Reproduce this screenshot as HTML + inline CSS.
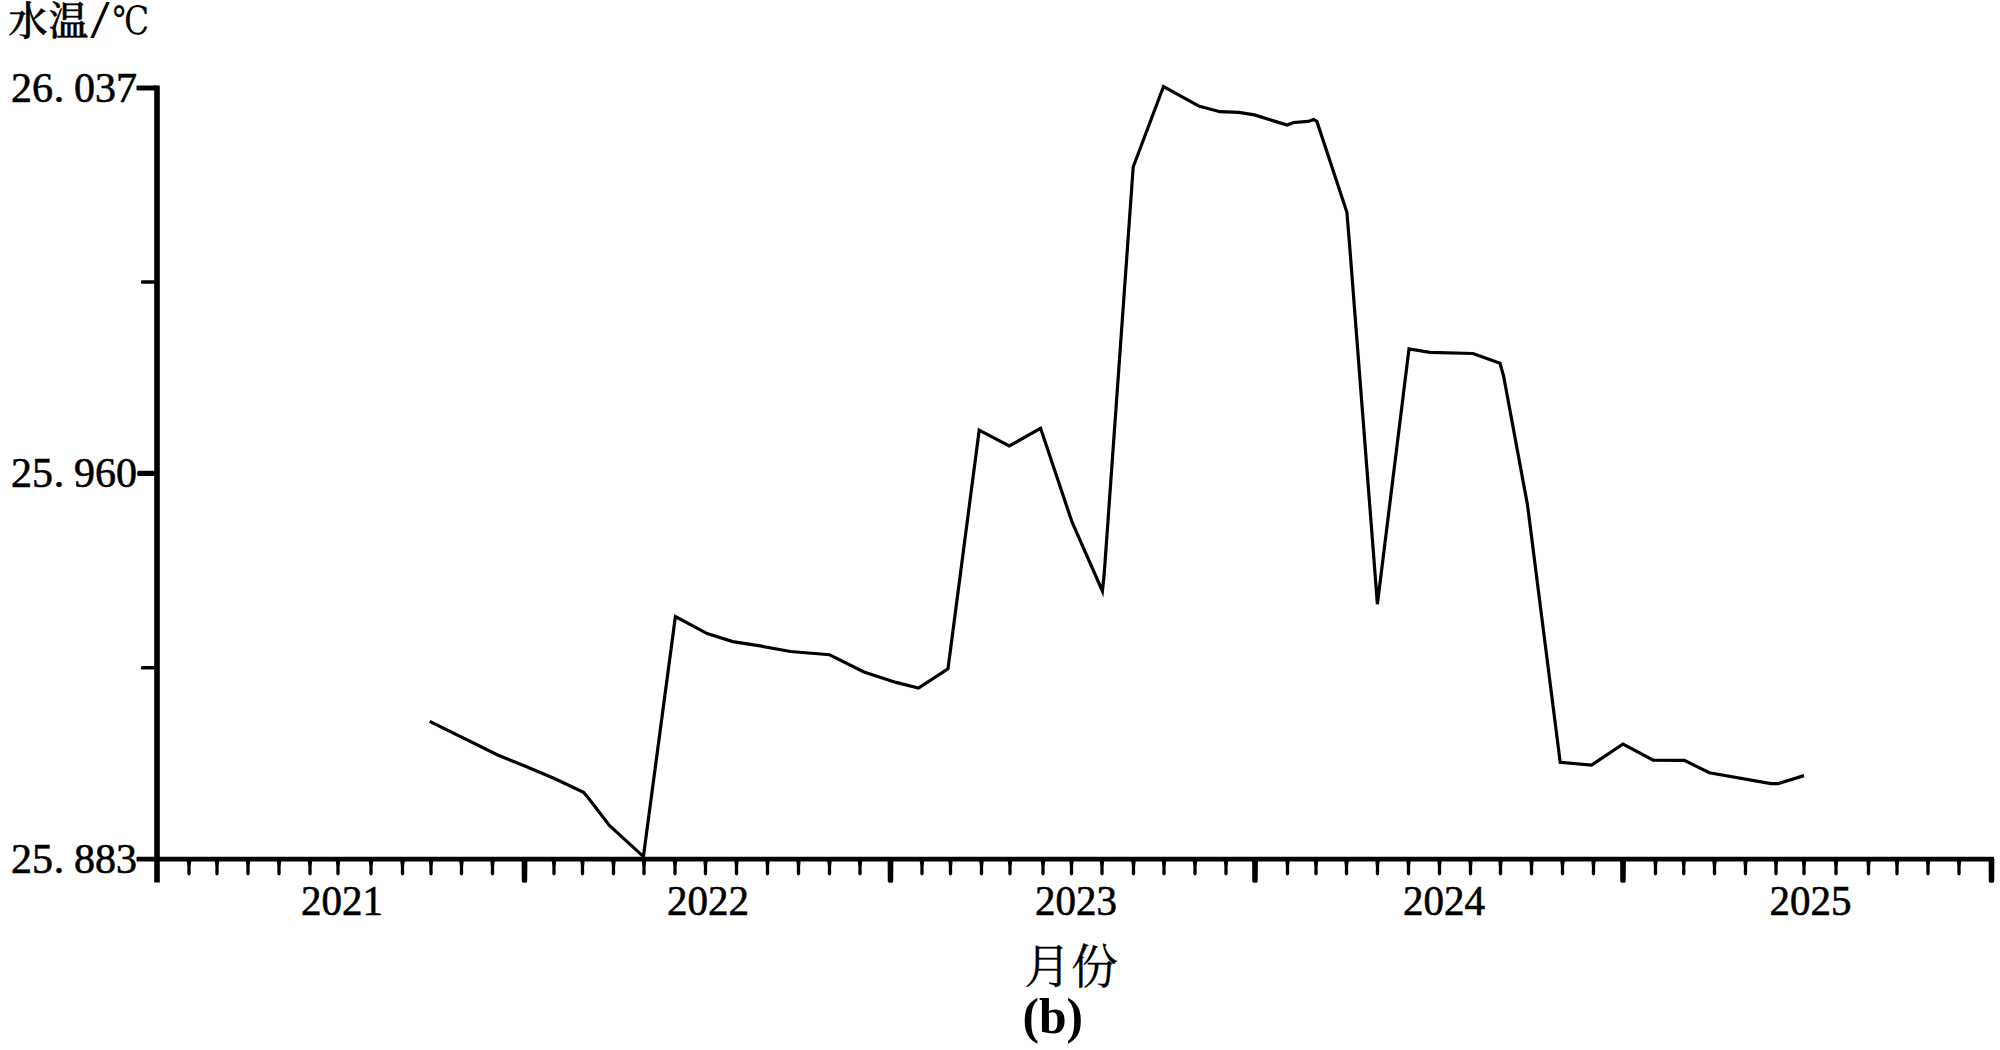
<!DOCTYPE html>
<html lang="zh-CN">
<head>
<meta charset="utf-8">
<title>水温 月份 (b)</title>
<style>
html,body{margin:0;padding:0;background:#fff;}
body{width:2000px;height:1050px;overflow:hidden;}
svg{display:block;}
.num{font-family:"Liberation Serif","Noto Serif CJK SC",serif;fill:#000;stroke:#000;stroke-width:0.6px;}
.cjk{font-family:"Liberation Serif","Noto Serif CJK SC",serif;fill:#000;stroke:#000;stroke-width:0.3px;}
.sl{font-family:"Liberation Mono",monospace;font-weight:400;stroke-width:0;}
.dj{font-family:"DejaVu Serif","Noto Serif CJK SC",serif;font-weight:400;fill:#000;stroke-width:0;}
.cap{font-family:"Liberation Serif","Noto Serif CJK SC",serif;font-weight:bold;fill:#000;}
</style>
</head>
<body>
<svg width="2000" height="1050" viewBox="0 0 2000 1050">
<rect x="0" y="0" width="2000" height="1050" fill="#fff"/>

<g fill="#000">
<rect x="154.2" y="85.5" width="5.6" height="797"/>
<rect x="136.5" y="856.7" width="1857.5" height="4.8" rx="1"/>
<rect x="136.5" y="85.5" width="20" height="5" rx="1"/>
<rect x="137.2" y="470.8" width="18" height="5.2" rx="1.5"/>
<rect x="141" y="280.3" width="14" height="3.4" rx="1.2"/>
<rect x="141" y="666.1" width="14" height="3.4" rx="1.2"/>
<path d="M521.6,859 L521.8,881.3 Q521.8,882.7 523.2,882.7 L525.8,882.7 Q527.2,882.7 527.2,881.3 L527.4,859 Z"/>
<path d="M887.6,859 L887.8,881.3 Q887.8,882.7 889.2,882.7 L891.8,882.7 Q893.2,882.7 893.2,881.3 L893.4,859 Z"/>
<path d="M1252.1,859 L1252.3,881.3 Q1252.3,882.7 1253.7,882.7 L1256.3,882.7 Q1257.7,882.7 1257.7,881.3 L1257.9,859 Z"/>
<path d="M1620.1,859 L1620.3,881.3 Q1620.3,882.7 1621.7,882.7 L1624.3,882.7 Q1625.7,882.7 1625.7,881.3 L1625.9,859 Z"/>
<path d="M1988.6,859 L1988.8,881.3 Q1988.8,882.7 1990.2,882.7 L1992.8,882.7 Q1994.2,882.7 1994.2,881.3 L1994.4,859 Z"/>
<path d="M186.7,860 L187.4,867 L187.3,873.6 Q187.3,875.4 189.0,875.4 Q190.7,875.4 190.7,873.6 L190.6,867 L191.3,860 Z"/>
<path d="M214.7,860 L215.4,867 L215.3,873.6 Q215.3,875.4 217.0,875.4 Q218.7,875.4 218.7,873.6 L218.6,867 L219.3,860 Z"/>
<path d="M245.7,860 L246.4,867 L246.3,873.6 Q246.3,875.4 248.0,875.4 Q249.7,875.4 249.7,873.6 L249.6,867 L250.3,860 Z"/>
<path d="M276.7,860 L277.4,867 L277.3,873.6 Q277.3,875.4 279.0,875.4 Q280.7,875.4 280.7,873.6 L280.6,867 L281.3,860 Z"/>
<path d="M307.7,860 L308.4,867 L308.3,873.6 Q308.3,875.4 310.0,875.4 Q311.7,875.4 311.7,873.6 L311.6,867 L312.3,860 Z"/>
<path d="M335.7,860 L336.4,867 L336.3,873.6 Q336.3,875.4 338.0,875.4 Q339.7,875.4 339.7,873.6 L339.6,867 L340.3,860 Z"/>
<path d="M368.7,860 L369.4,867 L369.3,873.6 Q369.3,875.4 371.0,875.4 Q372.7,875.4 372.7,873.6 L372.6,867 L373.3,860 Z"/>
<path d="M400.2,860 L400.9,867 L400.8,873.6 Q400.8,875.4 402.5,875.4 Q404.2,875.4 404.2,873.6 L404.1,867 L404.8,860 Z"/>
<path d="M428.7,860 L429.4,867 L429.3,873.6 Q429.3,875.4 431.0,875.4 Q432.7,875.4 432.7,873.6 L432.6,867 L433.3,860 Z"/>
<path d="M459.2,860 L459.9,867 L459.8,873.6 Q459.8,875.4 461.5,875.4 Q463.2,875.4 463.2,873.6 L463.1,867 L463.8,860 Z"/>
<path d="M490.2,860 L490.9,867 L490.8,873.6 Q490.8,875.4 492.5,875.4 Q494.2,875.4 494.2,873.6 L494.1,867 L494.8,860 Z"/>
<path d="M551.7,860 L552.4,867 L552.3,873.6 Q552.3,875.4 554.0,875.4 Q555.7,875.4 555.7,873.6 L555.6,867 L556.3,860 Z"/>
<path d="M580.2,860 L580.9,867 L580.8,873.6 Q580.8,875.4 582.5,875.4 Q584.2,875.4 584.2,873.6 L584.1,867 L584.8,860 Z"/>
<path d="M611.2,860 L611.9,867 L611.8,873.6 Q611.8,875.4 613.5,875.4 Q615.2,875.4 615.2,873.6 L615.1,867 L615.8,860 Z"/>
<path d="M641.7,860 L642.4,867 L642.3,873.6 Q642.3,875.4 644.0,875.4 Q645.7,875.4 645.7,873.6 L645.6,867 L646.3,860 Z"/>
<path d="M672.7,860 L673.4,867 L673.3,873.6 Q673.3,875.4 675.0,875.4 Q676.7,875.4 676.7,873.6 L676.6,867 L677.3,860 Z"/>
<path d="M703.2,860 L703.9,867 L703.8,873.6 Q703.8,875.4 705.5,875.4 Q707.2,875.4 707.2,873.6 L707.1,867 L707.8,860 Z"/>
<path d="M734.2,860 L734.9,867 L734.8,873.6 Q734.8,875.4 736.5,875.4 Q738.2,875.4 738.2,873.6 L738.1,867 L738.8,860 Z"/>
<path d="M765.2,860 L765.9,867 L765.8,873.6 Q765.8,875.4 767.5,875.4 Q769.2,875.4 769.2,873.6 L769.1,867 L769.8,860 Z"/>
<path d="M796.2,860 L796.9,867 L796.8,873.6 Q796.8,875.4 798.5,875.4 Q800.2,875.4 800.2,873.6 L800.1,867 L800.8,860 Z"/>
<path d="M827.2,860 L827.9,867 L827.8,873.6 Q827.8,875.4 829.5,875.4 Q831.2,875.4 831.2,873.6 L831.1,867 L831.8,860 Z"/>
<path d="M857.7,860 L858.4,867 L858.3,873.6 Q858.3,875.4 860.0,875.4 Q861.7,875.4 861.7,873.6 L861.6,867 L862.3,860 Z"/>
<path d="M919.7,860 L920.4,867 L920.3,873.6 Q920.3,875.4 922.0,875.4 Q923.7,875.4 923.7,873.6 L923.6,867 L924.3,860 Z"/>
<path d="M948.2,860 L948.9,867 L948.8,873.6 Q948.8,875.4 950.5,875.4 Q952.2,875.4 952.2,873.6 L952.1,867 L952.8,860 Z"/>
<path d="M979.2,860 L979.9,867 L979.8,873.6 Q979.8,875.4 981.5,875.4 Q983.2,875.4 983.2,873.6 L983.1,867 L983.8,860 Z"/>
<path d="M1007.7,860 L1008.4,867 L1008.3,873.6 Q1008.3,875.4 1010.0,875.4 Q1011.7,875.4 1011.7,873.6 L1011.6,867 L1012.3,860 Z"/>
<path d="M1040.7,860 L1041.4,867 L1041.3,873.6 Q1041.3,875.4 1043.0,875.4 Q1044.7,875.4 1044.7,873.6 L1044.6,867 L1045.3,860 Z"/>
<path d="M1069.2,860 L1069.9,867 L1069.8,873.6 Q1069.8,875.4 1071.5,875.4 Q1073.2,875.4 1073.2,873.6 L1073.1,867 L1073.8,860 Z"/>
<path d="M1099.7,860 L1100.4,867 L1100.3,873.6 Q1100.3,875.4 1102.0,875.4 Q1103.7,875.4 1103.7,873.6 L1103.6,867 L1104.3,860 Z"/>
<path d="M1131.2,860 L1131.9,867 L1131.8,873.6 Q1131.8,875.4 1133.5,875.4 Q1135.2,875.4 1135.2,873.6 L1135.1,867 L1135.8,860 Z"/>
<path d="M1161.7,860 L1162.4,867 L1162.3,873.6 Q1162.3,875.4 1164.0,875.4 Q1165.7,875.4 1165.7,873.6 L1165.6,867 L1166.3,860 Z"/>
<path d="M1192.7,860 L1193.4,867 L1193.3,873.6 Q1193.3,875.4 1195.0,875.4 Q1196.7,875.4 1196.7,873.6 L1196.6,867 L1197.3,860 Z"/>
<path d="M1223.7,860 L1224.4,867 L1224.3,873.6 Q1224.3,875.4 1226.0,875.4 Q1227.7,875.4 1227.7,873.6 L1227.6,867 L1228.3,860 Z"/>
<path d="M1285.2,860 L1285.9,867 L1285.8,873.6 Q1285.8,875.4 1287.5,875.4 Q1289.2,875.4 1289.2,873.6 L1289.1,867 L1289.8,860 Z"/>
<path d="M1313.7,860 L1314.4,867 L1314.3,873.6 Q1314.3,875.4 1316.0,875.4 Q1317.7,875.4 1317.7,873.6 L1317.6,867 L1318.3,860 Z"/>
<path d="M1344.2,860 L1344.9,867 L1344.8,873.6 Q1344.8,875.4 1346.5,875.4 Q1348.2,875.4 1348.2,873.6 L1348.1,867 L1348.8,860 Z"/>
<path d="M1375.2,860 L1375.9,867 L1375.8,873.6 Q1375.8,875.4 1377.5,875.4 Q1379.2,875.4 1379.2,873.6 L1379.1,867 L1379.8,860 Z"/>
<path d="M1406.2,860 L1406.9,867 L1406.8,873.6 Q1406.8,875.4 1408.5,875.4 Q1410.2,875.4 1410.2,873.6 L1410.1,867 L1410.8,860 Z"/>
<path d="M1437.2,860 L1437.9,867 L1437.8,873.6 Q1437.8,875.4 1439.5,875.4 Q1441.2,875.4 1441.2,873.6 L1441.1,867 L1441.8,860 Z"/>
<path d="M1468.2,860 L1468.9,867 L1468.8,873.6 Q1468.8,875.4 1470.5,875.4 Q1472.2,875.4 1472.2,873.6 L1472.1,867 L1472.8,860 Z"/>
<path d="M1498.2,860 L1498.9,867 L1498.8,873.6 Q1498.8,875.4 1500.5,875.4 Q1502.2,875.4 1502.2,873.6 L1502.1,867 L1502.8,860 Z"/>
<path d="M1529.2,860 L1529.9,867 L1529.8,873.6 Q1529.8,875.4 1531.5,875.4 Q1533.2,875.4 1533.2,873.6 L1533.1,867 L1533.8,860 Z"/>
<path d="M1560.2,860 L1560.9,867 L1560.8,873.6 Q1560.8,875.4 1562.5,875.4 Q1564.2,875.4 1564.2,873.6 L1564.1,867 L1564.8,860 Z"/>
<path d="M1591.2,860 L1591.9,867 L1591.8,873.6 Q1591.8,875.4 1593.5,875.4 Q1595.2,875.4 1595.2,873.6 L1595.1,867 L1595.8,860 Z"/>
<path d="M1653.2,860 L1653.9,867 L1653.8,873.6 Q1653.8,875.4 1655.5,875.4 Q1657.2,875.4 1657.2,873.6 L1657.1,867 L1657.8,860 Z"/>
<path d="M1681.5,860 L1682.2,867 L1682.0,873.6 Q1682.0,875.4 1683.8,875.4 Q1685.5,875.4 1685.5,873.6 L1685.3,867 L1686.0,860 Z"/>
<path d="M1712.2,860 L1712.9,867 L1712.8,873.6 Q1712.8,875.4 1714.5,875.4 Q1716.2,875.4 1716.2,873.6 L1716.1,867 L1716.8,860 Z"/>
<path d="M1743.2,860 L1743.9,867 L1743.8,873.6 Q1743.8,875.4 1745.5,875.4 Q1747.2,875.4 1747.2,873.6 L1747.1,867 L1747.8,860 Z"/>
<path d="M1773.7,860 L1774.4,867 L1774.3,873.6 Q1774.3,875.4 1776.0,875.4 Q1777.7,875.4 1777.7,873.6 L1777.6,867 L1778.3,860 Z"/>
<path d="M1801.7,860 L1802.4,867 L1802.3,873.6 Q1802.3,875.4 1804.0,875.4 Q1805.7,875.4 1805.7,873.6 L1805.6,867 L1806.3,860 Z"/>
<path d="M1833.7,860 L1834.4,867 L1834.3,873.6 Q1834.3,875.4 1836.0,875.4 Q1837.7,875.4 1837.7,873.6 L1837.6,867 L1838.3,860 Z"/>
<path d="M1866.2,860 L1866.9,867 L1866.8,873.6 Q1866.8,875.4 1868.5,875.4 Q1870.2,875.4 1870.2,873.6 L1870.1,867 L1870.8,860 Z"/>
<path d="M1894.7,860 L1895.4,867 L1895.3,873.6 Q1895.3,875.4 1897.0,875.4 Q1898.7,875.4 1898.7,873.6 L1898.6,867 L1899.3,860 Z"/>
<path d="M1925.7,860 L1926.4,867 L1926.3,873.6 Q1926.3,875.4 1928.0,875.4 Q1929.7,875.4 1929.7,873.6 L1929.6,867 L1930.3,860 Z"/>
<path d="M1956.7,860 L1957.4,867 L1957.3,873.6 Q1957.3,875.4 1959.0,875.4 Q1960.7,875.4 1960.7,873.6 L1960.6,867 L1961.3,860 Z"/>
</g>
<path d="M429.7,721.4 L497.7,755.0 L523.6,765.6 L554.4,778.5 L583.5,792.3 L588.4,798.0 L609.4,825.5 L643.4,856.6 L675.4,616.5 L707.2,633.6 L732.8,641.6 L760.0,645.9 L790.4,651.5 L829.6,654.7 L864.0,672.0 L896.0,682.4 L918.5,688.0 L948.0,668.8 L979.2,430.2 L1009.2,446.0 L1040.6,428.3 L1072.0,522.0 L1102.4,591.0 L1104.2,574.0 L1133.2,167.0 L1163.5,86.5 L1199.4,106.3 L1220.0,111.7 L1238.9,112.3 L1254.4,114.9 L1287.0,125.0 L1293.7,122.5 L1308.3,121.4 L1313.6,119.6 L1316.9,121.4 L1346.9,212.3 L1349.2,240.0 L1377.4,604.2 L1409.0,348.8 L1430.0,352.4 L1473.0,353.5 L1500.0,363.3 L1503.6,376.0 L1527.5,505.0 L1560.2,762.3 L1591.5,765.2 L1623.0,744.0 L1653.2,760.2 L1684.4,760.4 L1709.4,772.8 L1771.0,783.7 L1778.0,783.7 L1804.0,775.6" fill="none" stroke="#000" stroke-width="3.2" stroke-linejoin="miter" stroke-linecap="butt"/>
<text class="cjk" y="34.6" font-size="39.5" style="font-weight:500;stroke-width:0.6px"><tspan x="28 68.6" text-anchor="middle">水温</tspan><tspan class="sl" x="88.0" y="38.0" font-size="49.6" text-anchor="start" textLength="24" lengthAdjust="spacingAndGlyphs">/</tspan><tspan class="dj" x="112.6" y="34.2" font-size="39" text-anchor="start" textLength="36.7" lengthAdjust="spacingAndGlyphs">℃</tspan></text>
<text class="num" x="21.5 42.5 58.9 84.5 105.5 126.5" y="102.3" font-size="42" text-anchor="middle">26.037</text>
<text class="num" x="21.5 42.5 58.9 84.5 105.5 126.5" y="487.2" font-size="42" text-anchor="middle">25.960</text>
<text class="num" x="21.5 42.5 58.9 84.5 105.5 126.5" y="872.6" font-size="42" text-anchor="middle">25.883</text>
<g transform="translate(0,914.6) scale(1,1.035)"><text class="num" x="311.2 331.8 352.2 372.8" y="0" font-size="41" text-anchor="middle">2021</text></g>
<g transform="translate(0,914.6) scale(1,1.035)"><text class="num" x="677.2 697.8 718.2 738.8" y="0" font-size="41" text-anchor="middle">2022</text></g>
<g transform="translate(0,914.6) scale(1,1.035)"><text class="num" x="1045.2 1065.8 1086.2 1106.8" y="0" font-size="41" text-anchor="middle">2023</text></g>
<g transform="translate(0,914.6) scale(1,1.035)"><text class="num" x="1413.2 1433.8 1454.2 1474.8" y="0" font-size="41" text-anchor="middle">2024</text></g>
<g transform="translate(0,914.6) scale(1,1.035)"><text class="num" x="1779.8 1800.2 1820.8 1841.2" y="0" font-size="41" text-anchor="middle">2025</text></g>
<text class="cjk" x="1071" y="983" font-size="47" text-anchor="middle">月份</text>
<text class="cap" x="1052.8" y="1033.0" font-size="49.6" text-anchor="middle">(b)</text>
</svg>
</body>
</html>
